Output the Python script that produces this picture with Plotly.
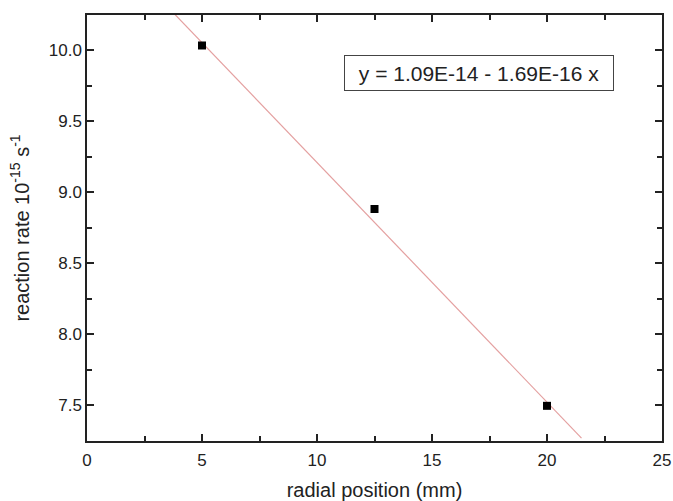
import plotly.graph_objects as go

# Data (reaction rate in units of 1e-15 s^-1)
radial_position = [5.0, 12.5, 20.0]
reaction_rate = [10.035, 8.882, 7.494]

# Linear fit as displayed: y = 1.09E-14 - 1.69E-16 x  (in 1e-15 units)
fit_intercept = 10.9
fit_slope = -0.169
fit_x_range = [3.75, 21.5]
fit_label = "y = 1.09E-14 - 1.69E-16 x"

fit_y = [fit_intercept + fit_slope * x for x in fit_x_range]

FONT = "Liberation Sans, Arial"
INK = "#222"

fig = go.Figure()
fig.add_trace(go.Scatter(
    x=fit_x_range, y=fit_y, mode="lines",
    line=dict(color="#e4a0a0", width=1.2), showlegend=False,
))
fig.add_trace(go.Scatter(
    x=radial_position, y=reaction_rate, mode="markers",
    marker=dict(symbol="square", size=8, color="black"), showlegend=False,
))

axis_common = dict(
    showgrid=False, zeroline=False, showline=True, linecolor=INK, linewidth=1.5,
    mirror="allticks", ticks="inside", ticklen=7, tickwidth=1.5, tickcolor=INK,
    tickfont=dict(family=FONT, size=17, color=INK), automargin=False,
)

fig.update_xaxes(
    range=[0, 25], dtick=5, tick0=0, ticklabelstandoff=3,
    minor=dict(ticks="inside", ticklen=5, tickwidth=1.5, tickcolor=INK, dtick=2.5, tick0=0),
    title=dict(text="radial position (mm)", font=dict(family=FONT, size=20, color=INK), standoff=14),
    **axis_common,
)
fig.update_yaxes(
    range=[7.246, 10.25], dtick=0.5, tick0=7.5, tickformat=".1f",
    minor=dict(ticks="inside", ticklen=5, tickwidth=1.5, tickcolor=INK, dtick=0.25, tick0=7.5),
    title=dict(text="reaction rate 10<sup>-15</sup> s<sup>-1</sup>", font=dict(family=FONT, size=20, color=INK), standoff=14),
    **axis_common,
)

fig.add_annotation(
    x=0.447, y=0.906, xref="paper", yref="paper", xanchor="left", yanchor="top",
    text=fit_label, showarrow=False, width=262, height=28, align="center", valign="middle",
    font=dict(family=FONT, size=21, color=INK),
    bordercolor="#444", borderwidth=1, borderpad=3, bgcolor="white",
)

fig.update_layout(
    width=673, height=501,
    margin=dict(l=87, r=11, t=15, b=60),
    plot_bgcolor="white", paper_bgcolor="white",
)

fig.write_html("out.html", config={"displayModeBar": False},
               post_script="document.body.style.margin='0';")
